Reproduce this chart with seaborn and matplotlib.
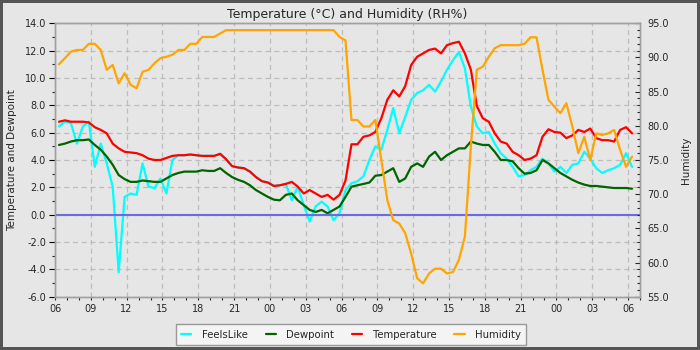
import matplotlib
matplotlib.use("Agg")
import matplotlib.pyplot as plt
import matplotlib.dates as mdates
from matplotlib.ticker import MultipleLocator, FormatStrFormatter
import seaborn as sns
import pandas as pd
import numpy as np

# ---- data (30-minute readings starting 06:20) ----
temperature = [6.8, 6.9, 6.8, 6.8, 6.8, 6.75, 6.4, 6.2, 5.95, 5.2,
               4.85, 4.6, 4.55, 4.5, 4.35, 4.1, 4.0, 4.0, 4.15, 4.3,
               4.35, 4.35, 4.4, 4.35, 4.3, 4.3, 4.3, 4.45, 4.05, 3.55,
               3.45, 3.4, 3.15, 2.75, 2.45, 2.35, 2.1, 2.15, 2.25, 2.4,
               2.05, 1.55, 1.8, 1.55, 1.3, 1.45, 1.1, 1.45, 2.5, 5.15,
               5.15, 5.7, 5.8, 6.05, 7.05, 8.4, 9.1, 8.65, 9.4, 10.95,
               11.55, 11.8, 12.05, 12.15, 11.8, 12.4, 12.55, 12.65, 11.8, 10.6,
               7.95, 7.05, 6.8, 5.95, 5.35, 5.2, 4.6, 4.35, 4.0, 4.1,
               4.35, 5.7, 6.25, 6.05, 6.0, 5.6, 5.8, 6.2, 6.05, 6.3,
               5.6, 5.45, 5.45, 5.35, 6.2, 6.4, 5.95]

dewpoint = [5.1, 5.2, 5.35, 5.45, 5.45, 5.5, 5.1, 4.75, 4.25, 3.65,
            2.9, 2.6, 2.4, 2.4, 2.5, 2.45, 2.4, 2.4, 2.65, 2.9,
            3.05, 3.15, 3.15, 3.15, 3.25, 3.2, 3.2, 3.4, 3.05, 2.75,
            2.55, 2.4, 2.15, 1.8, 1.55, 1.3, 1.1, 1.05, 1.45, 1.55,
            1.05, 0.7, 0.35, 0.2, 0.35, 0.1, 0.35, 0.6, 1.3, 2.05,
            2.15, 2.25, 2.35, 2.85, 2.9, 3.15, 3.4, 2.4, 2.65, 3.5,
            3.75, 3.5, 4.25, 4.6, 4.0, 4.35, 4.6, 4.85, 4.85, 5.35,
            5.2, 5.1, 5.1, 4.6, 4.0, 4.0, 3.9, 3.4, 3.0, 3.05,
            3.25, 4.0, 3.75, 3.4, 3.05, 2.8, 2.55, 2.35, 2.2, 2.1,
            2.1, 2.05, 2.0, 1.95, 1.95, 1.95, 1.9]

feelslike = [6.45, 6.8, 6.7, 5.2, 6.45, 6.8, 3.5, 5.2, 3.75, 2.05,
             -4.2, 1.3, 1.55, 1.45, 3.75, 2.05, 1.95, 2.65, 1.55, 4.0,
             4.35, 4.35, 4.4, 4.35, 4.3, 4.3, 4.3, 4.45, 4.05, 3.55,
             3.45, 3.4, 3.15, 2.75, 2.45, 2.35, 2.1, 2.15, 2.25, 1.05,
             2.05, 0.7, -0.5, 0.6, 0.95, 0.6, -0.4, 0.1, 1.8, 2.3,
             2.45, 2.8, 4.0, 5.0, 4.75, 6.2, 7.8, 5.95, 7.15, 8.4,
             8.9, 9.1, 9.5, 9.0, 9.75, 10.6, 11.3, 11.9, 10.7, 7.9,
             6.45, 5.95, 6.05, 5.2, 4.5, 4.1, 3.5, 2.8, 2.9, 3.25,
             3.5, 4.1, 3.75, 3.15, 3.5, 3.05, 3.65, 3.75, 4.6, 4.1,
             3.4, 3.05, 3.25, 3.4, 3.65, 4.5, 3.5]

humidity = [89.0, 89.9, 90.85, 91.1, 91.1, 92.0, 92.0, 91.1, 88.2, 88.9,
            86.2, 87.7, 86.0, 85.5, 87.9, 88.2, 89.15, 89.9, 90.1, 90.4,
            91.1, 91.1, 92.0, 92.0, 93.0, 93.0, 93.0, 93.5, 94.0, 94.0,
            94.0, 94.0, 94.0, 94.0, 94.0, 94.0, 94.0, 94.0, 94.0, 94.0,
            94.0, 94.0, 94.0, 94.0, 94.0, 94.0, 94.0, 93.0, 92.5, 80.85,
            80.85, 79.9, 79.9, 80.85, 75.0, 69.15, 66.2, 65.7, 64.3, 61.3,
            57.7, 56.95, 58.4, 59.1, 59.1, 58.4, 58.6, 60.4, 63.8, 77.0,
            88.2, 88.65, 90.1, 91.35, 91.8, 91.8, 91.8, 91.8, 92.0, 92.95,
            92.95, 88.2, 83.8, 82.8, 81.85, 83.3, 79.9, 76.0, 78.4, 75.0,
            78.9, 78.65, 78.9, 79.4, 76.5, 74.0, 75.5]

start_time = "2024-01-01 06:20"
step_minutes = 30
x_start, x_end = "2024-01-01 06:00", "2024-01-03 07:00"

times = pd.Timestamp(start_time) + pd.to_timedelta(
    np.arange(len(temperature)) * step_minutes, unit="min")
df = pd.DataFrame({"time": times, "FeelsLike": feelslike, "Dewpoint": dewpoint,
                   "Temperature": temperature, "Humidity": humidity})

sns.set_style("ticks")
plt.rcParams["font.family"] = ["DejaVu Sans"]

BG = "#e6e6e6"
fig = plt.figure(figsize=(7, 3.5), dpi=100, facecolor=BG,
                 edgecolor="#555555", linewidth=4)
ax = fig.add_axes([55 / 700, 1 - 296.7 / 350, 585 / 700, 273.4 / 350])
ax.set_facecolor(BG)
ax2 = ax.twinx()

lw = 1.6
sns.lineplot(data=df, x="time", y="FeelsLike", ax=ax, color="#00ffff",
             lw=lw, label="FeelsLike", legend=False, estimator=None)
sns.lineplot(data=df, x="time", y="Dewpoint", ax=ax, color="#006400",
             lw=lw, label="Dewpoint", legend=False, estimator=None)
sns.lineplot(data=df, x="time", y="Temperature", ax=ax, color="#ff0000",
             lw=lw, label="Temperature", legend=False, estimator=None)
sns.lineplot(data=df, x="time", y="Humidity", ax=ax2, color="#ffa500",
             lw=lw, label="Humidity", legend=False, estimator=None)
ax.axhline(0, color="#6b6be8", lw=1.5, zorder=5)

ax.set_xlim(pd.Timestamp(x_start), pd.Timestamp(x_end))
ax.set_ylim(-6, 14)
ax2.set_ylim(55, 95)

ax.xaxis.set_major_locator(mdates.HourLocator(byhour=range(0, 24, 3)))
ax.xaxis.set_major_formatter(mdates.DateFormatter("%H"))
ax.xaxis.set_minor_locator(mdates.HourLocator())
ax.yaxis.set_major_locator(MultipleLocator(2))
ax.yaxis.set_minor_locator(MultipleLocator(1))
ax.yaxis.set_major_formatter(FormatStrFormatter("%.1f"))
ax2.yaxis.set_major_locator(MultipleLocator(5))
ax2.yaxis.set_minor_locator(MultipleLocator(1))
ax2.yaxis.set_major_formatter(FormatStrFormatter("%.1f"))

ax.grid(True, which="major", axis="both", ls=(0, (4, 3)), color="#bdbdbd", lw=0.9)
ax2.grid(False)

ax.tick_params(axis="y", which="major", direction="out", length=4, width=0.8,
               labelsize=7, pad=2.5, color="black")
ax.tick_params(axis="y", which="minor", direction="out", length=2.5, width=0.8)
ax.tick_params(axis="x", which="both", direction="out", length=2.5, width=0.8,
               labelsize=7, pad=3)
ax2.tick_params(axis="y", which="major", direction="in", length=3.5, width=0.8,
                labelsize=7, pad=5)
ax2.tick_params(axis="y", which="minor", direction="in", length=2.5, width=0.8)

for a in (ax, ax2):
    for s in a.spines.values():
        s.set_color("#a0a0a0")
        s.set_linewidth(1)
        s.set_visible(True)

ax.set_xlabel("")
ax.set_ylabel("Temperature and Dewpoint", fontsize=7.5)
ax.yaxis.set_label_coords(-0.065, 0.5)
ax2.set_ylabel("Humidity", fontsize=7.5)
ax2.yaxis.set_label_coords(1.07, 0.5)
ax.set_title("Temperature (°C) and Humidity (RH%)", fontsize=9, pad=4)

h1, l1 = ax.get_legend_handles_labels()
h2, l2 = ax2.get_legend_handles_labels()
leg = fig.legend(h1 + h2, l1 + l2, loc="lower center",
                 bbox_to_anchor=(351 / 700, -0.5 / 350), ncol=4, frameon=True,
                 fancybox=False, edgecolor="#999999", facecolor="#f4f4f4",
                 framealpha=1, fontsize=7.3, handlelength=1.0,
                 handletextpad=1.0, columnspacing=1.8, borderpad=0.55)
leg.get_frame().set_linewidth(1)

fig.savefig("out.png", dpi=100, facecolor=BG, edgecolor="#555555")
